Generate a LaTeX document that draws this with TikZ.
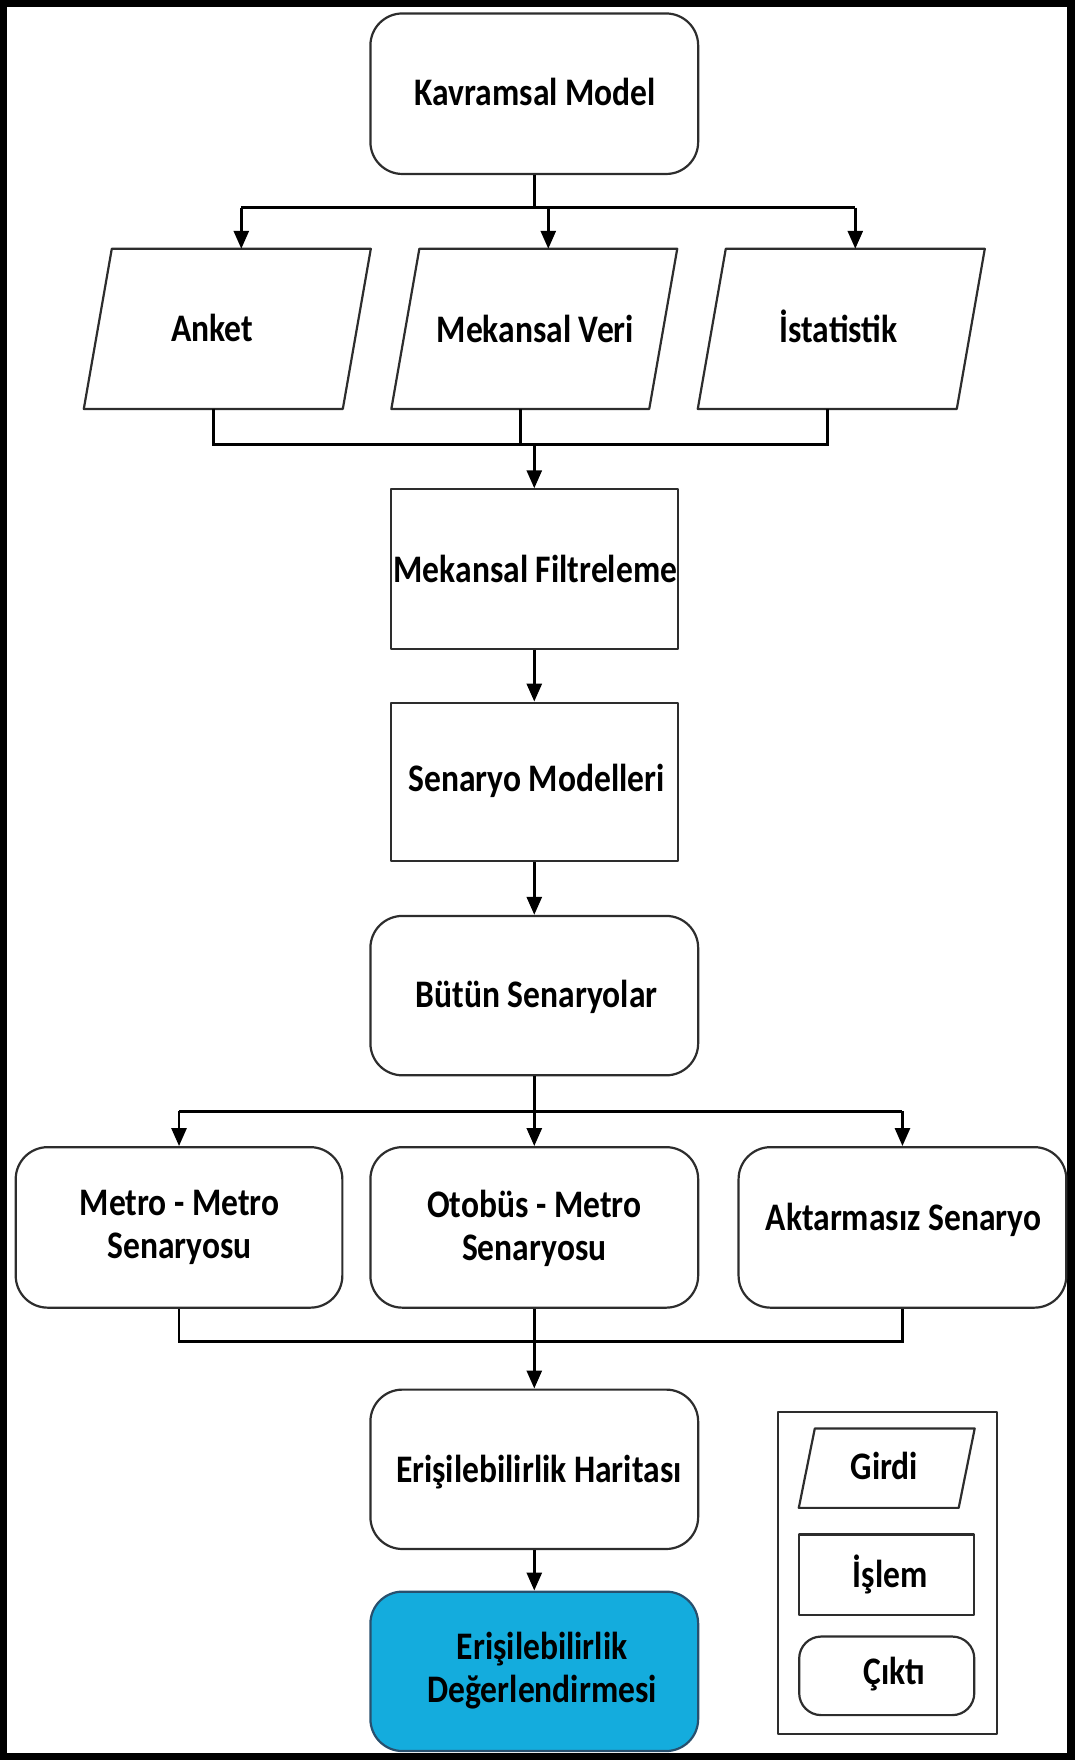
\documentclass[tikz,border=0pt]{standalone}
\usepackage{fontspec}
\setmainfont{Carlito}[FakeStretch=0.86]
\usetikzlibrary{arrows.meta,fit,calc}
\definecolor{edge}{RGB}{45,45,45}
\definecolor{outblue}{RGB}{20,172,221}
\definecolor{outedge}{RGB}{40,80,110}
% parallelogram drawn over a fitted (invisible) node: #1 name, #2 slant
\newcommand\drawpara[2]{%
  \draw[box] ([xshift=#2]#1.north west) -- (#1.north east)
    -- ([xshift=-#2]#1.south east) -- (#1.south west) -- cycle;}
\begin{document}
\begin{tikzpicture}[x=0.5611pt,y=-0.5611pt,
  box/.style={draw=edge, line width=1.1pt, inner sep=0pt, line join=round},
  rbox/.style={box, rounded corners=16pt},
  ghost/.style={inner sep=0pt},
  lbl/.style={font=\bfseries\fontsize{19.5}{21.5}\selectfont, align=center,
    inner sep=0pt, text height=12.5pt, text depth=0pt},
  wire/.style={draw=black, line width=1.4pt},
  arrow/.style={wire, -{Triangle[length=9pt,width=7.5pt]}},
]
\useasboundingbox (0,0) rectangle (957,1568);
\draw[line width=3.8pt] (3,3) rectangle (954,1565);

% bus levels
\coordinate (y1) at (0,185);
\coordinate (y2) at (0,396);
\coordinate (y3) at (0,990);
\coordinate (y4) at (0,1195);

% top: concept model and inputs
\node[rbox, fit={(330,12) (622,155)}] (km) {};
\node[ghost, fit={(75,222) (330,364)}] (anket) {};
\node[ghost, fit={(349,222) (603,364)}] (mv) {};
\node[ghost, fit={(622,222) (877,364)}] (ist) {};
\drawpara{anket}{14pt}
\drawpara{mv}{14pt}
\drawpara{ist}{14pt}
\coordinate (anket-top) at ([xshift=7pt]anket.north);
\coordinate (mv-top) at ([xshift=7pt]mv.north);
\coordinate (ist-top) at ([xshift=7pt]ist.north);
\coordinate (anket-bot) at ([xshift=-7pt]anket.south);
\coordinate (mv-bot) at ([xshift=-7pt]mv.south);
\coordinate (ist-bot) at ([xshift=-7pt]ist.south);

% processing steps
\node[box, fit={(348,436) (604,578)}] (mf) {};
\node[box, fit={(348,626) (604,767)}] (sm) {};
\node[rbox, fit={(330,816) (622,958)}] (bs) {};

% scenarios
\node[rbox, fit={(14,1022) (305,1165)}] (mm) {};
\node[rbox, fit={(330,1022) (622,1165)}] (om) {};
\node[rbox, fit={(658,1022) (950,1165)}] (ak) {};

% outputs
\node[rbox, fit={(330,1238) (622,1380)}] (eh) {};
\node[rbox, fill=outblue, draw=outedge, fit={(330,1418) (622,1560)}] (ed) {};

% legend
\node[box, fit={(693,1258) (888,1545)}] (leg) {};
\node[ghost, fit={(712,1273) (868,1343)}] (girdi) {};
\drawpara{girdi}{8pt}
\node[box, fit={(712,1367) (868,1439)}] (islem) {};
\node[box, rounded corners=11pt, fit={(712,1458) (868,1528)}] (cikti) {};

% connectors
\draw[wire] (km.south) -- (km.south |- y1);
\draw[wire] (anket-top |- y1) -- (ist-top |- y1);
\draw[arrow] (anket-top |- y1) -- (anket-top);
\draw[arrow] (mv-top |- y1) -- (mv-top);
\draw[arrow] (ist-top |- y1) -- (ist-top);

\draw[wire] (anket-bot) -- (anket-bot |- y2) -- (ist-bot |- y2) -- (ist-bot);
\draw[wire] (mv-bot) -- (mv-bot |- y2);
\draw[arrow] (mf.north |- y2) -- (mf.north);

\draw[arrow] (mf) -- (sm);
\draw[arrow] (sm) -- (bs);

\draw[wire] (bs.south) -- (bs.south |- y3);
\draw[wire] (mm.north |- y3) -- (ak.north |- y3);
\draw[arrow] (mm.north |- y3) -- (mm.north);
\draw[arrow] (om.north |- y3) -- (om.north);
\draw[arrow] (ak.north |- y3) -- (ak.north);

\draw[wire] (mm.south) -- (mm.south |- y4) -- (ak.south |- y4) -- (ak.south);
\draw[wire] (om.south) -- (om.south |- y4);
\draw[arrow] (eh.north |- y4) -- (eh.north);
\draw[arrow] (eh) -- (ed);

% labels (two-line labels are placed by their last line)
\node[lbl] (km-l) at (477,83) {Kavramsal Model};
\node[lbl] (anket-l) at (189,293) {Anket};
\node[lbl] (mv-l) at (477,294) {Mekansal Veri};
\node[lbl] (ist-l) at (747,294) {İstatistik};
\node[lbl] (mf-l) at (477,508) {Mekansal Filtreleme};
\node[lbl] (sm-l) at (478,694) {Senaryo Modelleri};
\node[lbl] (bs-l) at (478,886) {Bütün Senaryolar};
\node[lbl] (mm-l) at (160,1110) {Metro - Metro\\Senaryosu};
\node[lbl] (om-l) at (476,1112) {Otobüs - Metro\\Senaryosu};
\node[lbl] (ak-l) at (805,1085) {Aktarmasız Senaryo};
\node[lbl] (eh-l) at (480,1310) {Erişilebilirlik Haritası};
\node[lbl] (ed-l) at (483,1506) {Erişilebilirlik\\Değerlendirmesi};
\node[lbl] (girdi-l) at (788,1307) {Girdi};
\node[lbl] (islem-l) at (793,1403) {İşlem};
\node[lbl] (cikti-l) at (797,1490) {Çıktı};
\end{tikzpicture}
\end{document}
